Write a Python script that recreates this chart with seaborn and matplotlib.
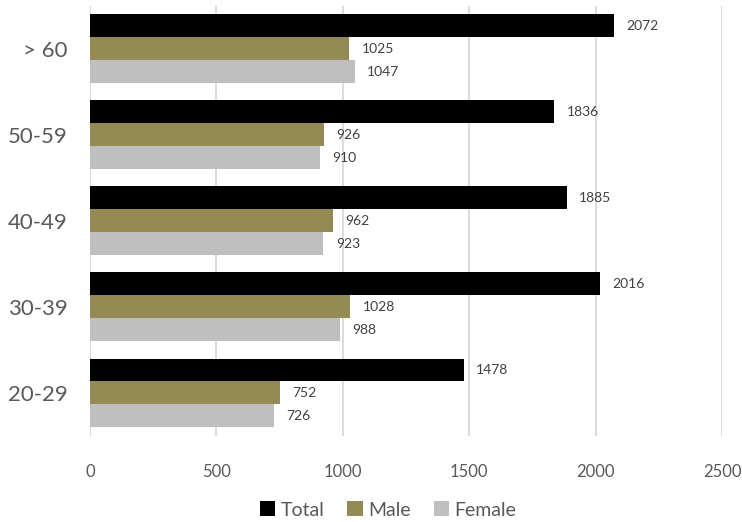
import matplotlib
matplotlib.use("Agg")
import matplotlib.pyplot as plt
import seaborn as sns
import pandas as pd

categories = ["> 60", "50-59", "40-49", "30-39", "20-29"]
series = ["Total", "Male", "Female"]
total = [2072, 1836, 1885, 2016, 1478]
male = [1025, 926, 962, 1028, 752]
female = [1047, 910, 923, 988, 726]
xticks = [0, 500, 1000, 1500, 2000, 2500]

colors = {"Total": "#000000", "Male": "#948A54", "Female": "#BFBFBF"}

rows = []
for name, vals in zip(series, [total, male, female]):
    for c, v in zip(categories, vals):
        rows.append({"Age": c, "Series": name, "Value": v})
df = pd.DataFrame(rows)

sns.set_theme(style="white")
plt.rcParams["font.family"] = ["Lato", "DejaVu Sans"]

fig = plt.figure(figsize=(7.42, 5.22), dpi=100)
ax = fig.add_axes([90 / 742, 1 - 436 / 522, 632 / 742, 430.5 / 522])

sns.barplot(data=df, y="Age", x="Value", hue="Series", order=categories,
            hue_order=series, palette=colors, orient="h", width=0.8,
            saturation=1, ax=ax, legend=True, linewidth=0)

for cont in ax.containers:
    ax.bar_label(cont, padding=9, fontsize=10, color="#404040")

ax.set_xlim(0, 2500)
ax.set_xticks(xticks)
ax.set_xticklabels([str(t) for t in xticks])
ax.xaxis.grid(True, color="#D9D9D9", linewidth=1.3)
ax.set_axisbelow(True)
for s in ["top", "right", "bottom", "left"]:
    ax.spines[s].set_visible(False)
ax.set_xlabel("")
ax.set_ylabel("")
ax.tick_params(axis="x", length=0, labelsize=12, labelcolor="#595959", pad=20)
ax.tick_params(axis="y", length=0, labelsize=16, labelcolor="#595959", pad=16)

handles, labels = ax.get_legend_handles_labels()
ax.get_legend().remove()
fig.legend(handles, labels, loc="center", bbox_to_anchor=(388 / 742, 1 - 510 / 522),
           ncol=3, frameon=False, fontsize=14, labelcolor="#595959",
           handlelength=0.8, handleheight=0.8, handletextpad=0.25, columnspacing=1.2)

fig.savefig("out.png", dpi=100)
